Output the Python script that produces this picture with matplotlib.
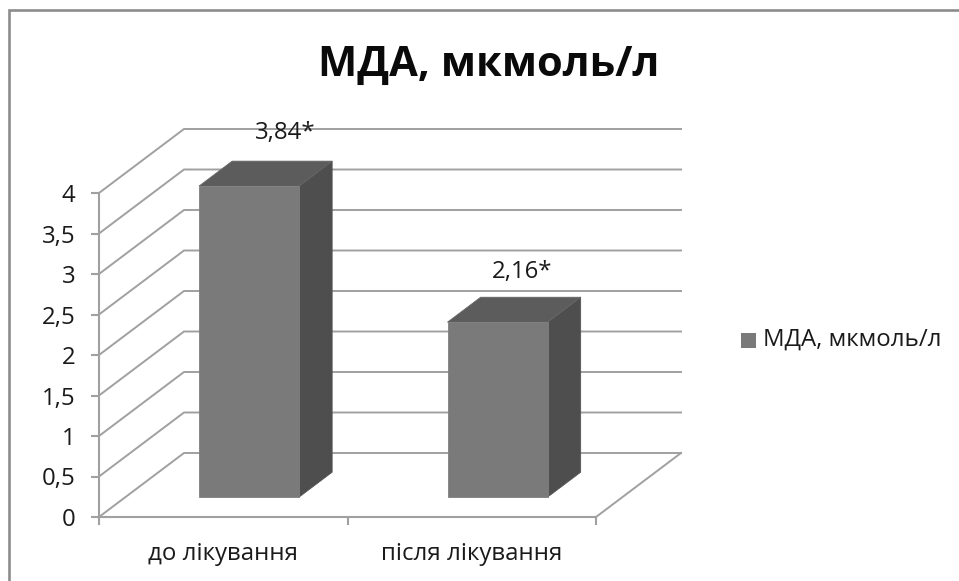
#!/usr/bin/env python3
import matplotlib
matplotlib.use('Agg')
import matplotlib.pyplot as plt
from matplotlib.lines import Line2D
from matplotlib.patches import Polygon, Rectangle

W, H = 959, 581
categories = ['до лікування', 'після лікування']
values = [3.84, 2.16]
value_labels = ['3,84*', '2,16*']
y_ticks = [0, 0.5, 1, 1.5, 2, 2.5, 3, 3.5, 4]
y_tick_labels = ['0', '0,5', '1', '1,5', '2', '2,5', '3', '3,5', '4']
series_name = 'МДА, мкмоль/л'

plt.rcParams['font.family'] = ['Open Sans', 'DejaVu Sans']
GRID = '#a0a0a0'
TXT = '#1a1a1a'
FS = 17.3

fig = plt.figure(figsize=(W / 100, H / 100), dpi=100)
fig.patch.set_facecolor('white')

# only the top and left of the chart frame are inside the screenshot
fig.add_artist(Line2D([9 / W, 9 / W, 1], [0, 1 - 10 / H, 1 - 10 / H], color='#8c8c8c', lw=1.9,
                      solid_joinstyle='miter'))

# front plane of the 3D box, in pixels
ax = fig.add_axes([99 / W, 1 - 517 / H, 497 / W, 324 / H])
ax.set_xlim(0, 2)
ax.set_ylim(0, 4)
ax.patch.set_alpha(0)

# oblique depth: z=1 is the back wall
DX = 85 / (497 / 2)
DY = 64 / (324 / 4)


def proj(x, y, z):
    return x + DX * z, y + DY * z


for t in y_ticks:
    xs, ys = zip(proj(0, t, 0), proj(0, t, 1), proj(2, t, 1))
    ax.plot(xs, ys, color=GRID, lw=1.4, clip_on=False, zorder=1, solid_joinstyle='miter')
xs, ys = zip(proj(2, 0, 0), proj(2, 0, 1))
ax.plot(xs, ys, color=GRID, lw=1.4, clip_on=False, zorder=1)

# bars: width and depth as a share of the category slot
BAR_W = 100 / (497 / 2)
Z0, Z1 = 0.31, 0.70
# label nudges in points, Excel does not centre them on the bar top
nudges = [(2, 20), (-6, 18)]
for i, (v, lab) in enumerate(zip(values, value_labels)):
    left = i + 100 / (497 / 2) - DX * Z0
    right = left + BAR_W
    front = [proj(left, 0, Z0), proj(right, 0, Z0), proj(right, v, Z0), proj(left, v, Z0)]
    side = [proj(right, 0, Z0), proj(right, 0, Z1), proj(right, v, Z1), proj(right, v, Z0)]
    top = [proj(left, v, Z0), proj(right, v, Z0), proj(right, v, Z1), proj(left, v, Z1)]
    ax.add_patch(Polygon(side, closed=True, fc='#4e4e4e', ec='#555555', lw=0.6, clip_on=False, zorder=3))
    ax.add_patch(Polygon(top, closed=True, fc='#5c5c5c', ec='#666666', lw=0.6, clip_on=False, zorder=3))
    ax.add_patch(Polygon(front, closed=True, fc='#7a7a7a', ec='#808080', lw=0.6, clip_on=False, zorder=3))
    lx, ly = proj(left + BAR_W / 2, v, Z1)
    ax.annotate(lab, (lx, ly), xytext=nudges[i], textcoords='offset points', annotation_clip=False,
                ha='center', va='center', fontsize=FS, color=TXT, zorder=5)

for s in ('top', 'right'):
    ax.spines[s].set_visible(False)
for s in ('left', 'bottom'):
    ax.spines[s].set_color(GRID)
    ax.spines[s].set_linewidth(1.5)
ax.set_yticks(y_ticks, y_tick_labels)
ax.set_xticks([0, 1, 2])
ax.set_xticklabels([])
ax.set_xticks([0.5, 1.5], categories, minor=True)
ax.tick_params(axis='x', which='major', length=6, width=1.5, color=GRID)
ax.tick_params(axis='x', which='minor', length=0, pad=18, labelsize=FS, labelcolor=TXT)
ax.tick_params(axis='y', length=6, width=1.5, color=GRID, pad=11, labelsize=FS, labelcolor=TXT)

fig.text(489 / W, 1 - 65 / H, series_name, ha='center', va='center', fontsize=30,
         fontweight='bold', color='#0a0a0a')

fig.add_artist(Rectangle((741 / W, 1 - 348 / H), 15 / W, 15 / H, transform=fig.transFigure,
                         fc='#7a7a7a', ec='none'))
fig.text(763 / W, 1 - 340 / H, series_name, ha='left', va='center', fontsize=FS, color=TXT)

fig.savefig('out.png', dpi=100)
